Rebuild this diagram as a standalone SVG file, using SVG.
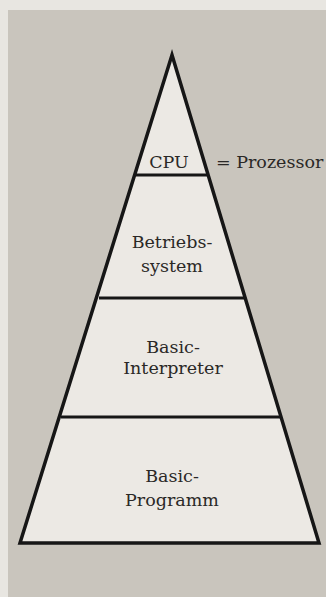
<svg xmlns="http://www.w3.org/2000/svg" width="326" height="597" viewBox="0 0 326 597">
<style>
.t{font-family:"DejaVu Serif","Liberation Serif",serif;font-size:17.5px;fill:#2a2826;text-anchor:middle}
.l{stroke:#161616;stroke-width:3;fill:none}
</style>
<rect x="0" y="0" width="326" height="597" fill="#e8e6e1"/>
<rect x="8" y="10" width="318" height="587" fill="#c9c5bd"/>
<g id="pyramid">
<polygon points="172,55 20,543 319,543" fill="#ece9e4" stroke="#161616" stroke-width="3.5" stroke-linejoin="miter"/>
</g>
<g id="connectors">
<line class="l" x1="136" y1="175" x2="207" y2="175" stroke="#14202a"/>
<line class="l" x1="99" y1="298" x2="245" y2="298"/>
<line class="l" x1="61" y1="417" x2="282" y2="417"/>
</g>
<g id="cpu"><text class="t" x="169" y="168">CPU</text></g>
<g id="prozessor"><text class="t" x="216" y="168" style="text-anchor:start">= Prozessor</text></g>
<g id="betriebssystem"><text class="t" x="172" y="248">Betriebs-</text><text class="t" x="172" y="272">system</text></g>
<g id="interpreter"><text class="t" x="173" y="353">Basic-</text><text class="t" x="173" y="374">Interpreter</text></g>
<g id="programm"><text class="t" x="172" y="482">Basic-</text><text class="t" x="172" y="506">Programm</text></g>
</svg>
